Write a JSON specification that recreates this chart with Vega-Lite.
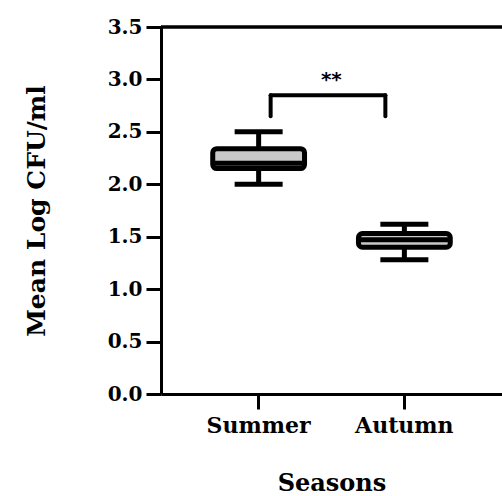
{
  "$schema": "https://vega.github.io/schema/vega-lite/v6.json",
  "autosize": "none",
  "width": 341,
  "height": 367,
  "padding": {"left": 161, "top": 27, "right": 0, "bottom": 102},
  "background": "white",
  "config": {
    "view": {"stroke": null},
    "font": "DejaVu Serif",
    "axis": {"grid": false, "domainColor": "black", "tickColor": "black", "labelColor": "black", "titleColor": "black", "labelFont": "DejaVu Serif", "titleFont": "DejaVu Serif", "labelFontWeight": "bold", "titleFontWeight": "bold", "domainWidth": 3, "tickWidth": 3, "tickSize": 15}
  },
  "datasets": {
    "boxes": [
      {"season": "Summer", "min": 2.0, "q1": 2.15, "median": 2.2, "q3": 2.34, "max": 2.5},
      {"season": "Autumn", "min": 1.28, "q1": 1.4, "median": 1.47, "q3": 1.53, "max": 1.62}
    ]
  },
  "data": {"name": "boxes"},
  "encoding": {
    "x": {
      "field": "season", "type": "nominal",
      "scale": {"domain": ["Summer", "Autumn"], "paddingInner": 0.37, "paddingOuter": 0.355},
      "axis": {"title": "Seasons", "labelAngle": 0, "labelFontSize": 22, "titleFontSize": 24, "labelPadding": 6, "titlePadding": 35}
    }
  },
  "layer": [
    {
      "mark": {"type": "rule", "color": "black", "strokeWidth": 3},
      "encoding": {
        "y": {"datum": 3.5, "type": "quantitative", "scale": {"domain": [0, 3.5]}},
        "x": null
      }
    },
    {
      "mark": {"type": "rule", "color": "black", "strokeWidth": 5},
      "encoding": {
        "y": {"field": "min", "type": "quantitative", "scale": {"domain": [0, 3.5]},
          "axis": {"title": "Mean Log CFU/ml", "values": [0, 0.5, 1, 1.5, 2, 2.5, 3, 3.5], "format": ".1f", "labelFontSize": 20, "titleFontSize": 25, "labelPadding": 4, "titlePadding": 58}},
        "y2": {"field": "max"}
      }
    },
    {
      "mark": {"type": "tick", "color": "black", "thickness": 5, "size": 48, "opacity": 1},
      "encoding": {"y": {"field": "min", "type": "quantitative"}}
    },
    {
      "mark": {"type": "tick", "color": "black", "thickness": 5, "size": 48, "opacity": 1},
      "encoding": {"y": {"field": "max", "type": "quantitative"}}
    },
    {
      "mark": {"type": "bar", "fill": "#c8c8c8", "stroke": "black", "strokeWidth": 5, "cornerRadius": 4},
      "encoding": {
        "y": {"field": "q1", "type": "quantitative"},
        "y2": {"field": "q3"}
      }
    },
    {
      "mark": {"type": "tick", "color": "black", "thickness": 5, "size": 90, "opacity": 1},
      "encoding": {"y": {"field": "median", "type": "quantitative"}}
    },
    {
      "data": {"values": [{"from": "Summer", "to": "Autumn", "low": 2.65, "high": 2.85, "label": "**", "ly": 2.99}]},
      "layer": [
        {
          "mark": {"type": "rule", "color": "black", "strokeWidth": 4, "strokeCap": "round", "xOffset": 12, "x2Offset": -19},
          "encoding": {
            "x": {"field": "from", "type": "nominal"},
            "x2": {"field": "to"},
            "y": {"field": "high", "type": "quantitative"}
          }
        },
        {
          "mark": {"type": "rule", "color": "black", "strokeWidth": 4, "strokeCap": "round", "xOffset": 12},
          "encoding": {
            "x": {"field": "from", "type": "nominal"},
            "y": {"field": "low", "type": "quantitative"},
            "y2": {"field": "high"}
          }
        },
        {
          "mark": {"type": "rule", "color": "black", "strokeWidth": 4, "strokeCap": "round", "xOffset": -19},
          "encoding": {
            "x": {"field": "to", "type": "nominal"},
            "y": {"field": "low", "type": "quantitative"},
            "y2": {"field": "high"}
          }
        },
        {
          "mark": {"type": "text", "font": "DejaVu Sans", "fontWeight": "bold", "fontSize": 20, "baseline": "middle", "xOffset": -73},
          "encoding": {
            "x": {"field": "to", "type": "nominal"},
            "y": {"field": "ly", "type": "quantitative"},
            "text": {"field": "label"}
          }
        }
      ]
    }
  ]
}
